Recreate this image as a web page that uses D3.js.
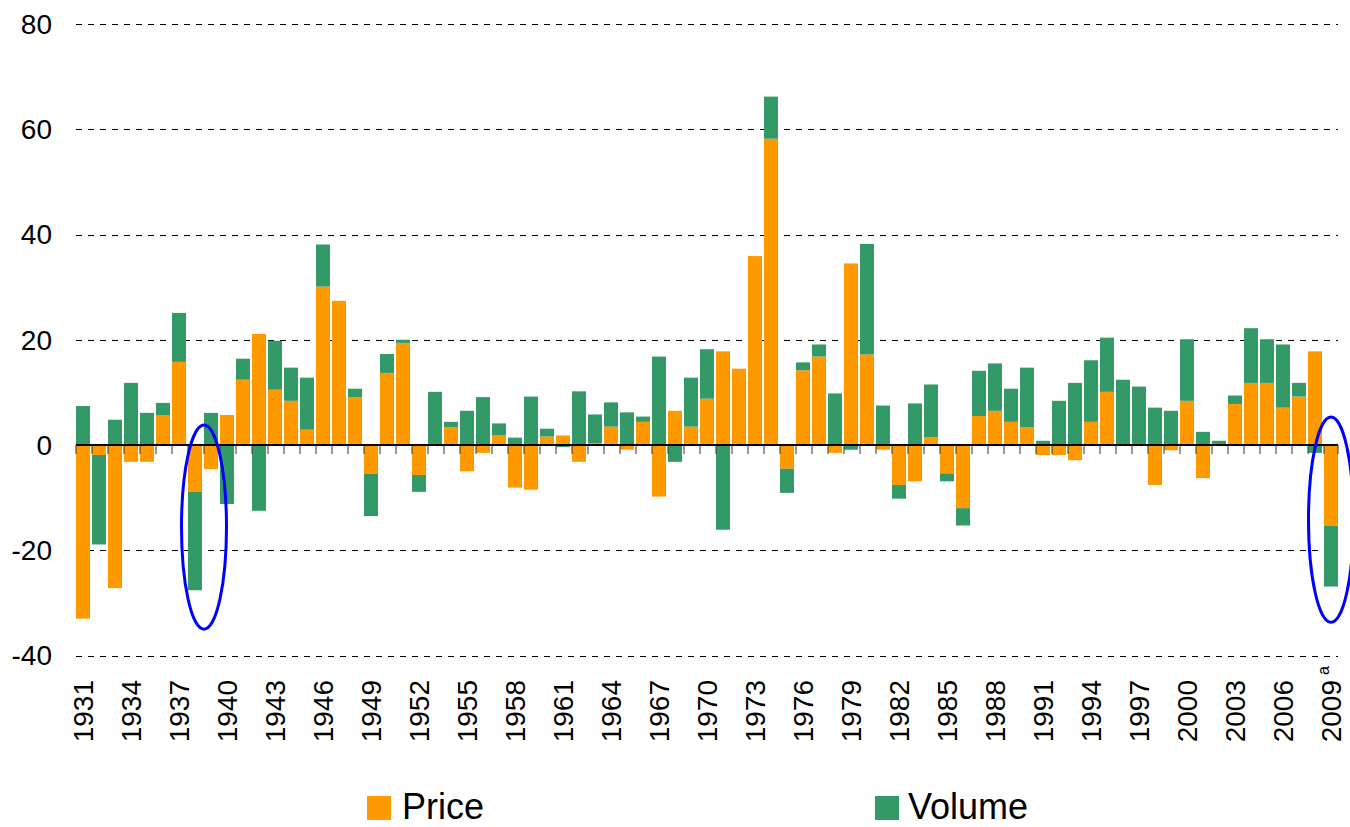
<!DOCTYPE html>
<html>
<head>
<meta charset="utf-8">
<script src="https://cdn.jsdelivr.net/npm/d3@7"></script>
<style>
  body { margin: 0; background: #fff; }
  text { font-family: "Liberation Sans", Arial, sans-serif; }
</style>
</head>
<body>
<svg id="chart"></svg>
<script>
// years on the x axis
var years = [1931, 1932, 1933, 1934, 1935, 1936, 1937, 1938, 1939, 1940,
  1941, 1942, 1943, 1944, 1945, 1946, 1947, 1948, 1949, 1950,
  1951, 1952, 1953, 1954, 1955, 1956, 1957, 1958, 1959, 1960,
  1961, 1962, 1963, 1964, 1965, 1966, 1967, 1968, 1969, 1970,
  1971, 1972, 1973, 1974, 1975, 1976, 1977, 1978, 1979, 1980,
  1981, 1982, 1983, 1984, 1985, 1986, 1987, 1988, 1989, 1990,
  1991, 1992, 1993, 1994, 1995, 1996, 1997, 1998, 1999, 2000,
  2001, 2002, 2003, 2004, 2005, 2006, 2007, 2008, 2009]

// price contribution (orange)
var price = [-33.0, -1.9, -27.2, -3.2, -3.2, 5.7, 15.8, -8.9, -4.6, 5.7,
  12.4, 21.1, 10.5, 8.4, 2.9, 30.1, 27.4, 9.1, -5.5, 13.7,
  19.4, -5.7, 0, 3.4, -5.0, -1.5, 1.8, -8.1, -8.5, 1.6,
  1.8, -3.2, 0.3, 3.5, -0.9, 4.4, -9.8, 6.5, 3.5, 8.8,
  17.8, 14.5, 35.9, 58.2, -4.5, 14.2, 16.8, -1.5, 34.5, 17.2,
  -0.9, -7.6, -6.9, 1.5, -5.4, -12.0, 5.5, 6.5, 4.4, 3.4,
  -1.9, -1.9, -2.9, 4.4, 10.1, 0, 0.2, -7.6, -1.0, 8.4,
  -6.3, 0.2, 7.8, 11.8, 11.8, 7.1, 9.2, 17.8, -15.3]

// volume contribution (green)
var volume = [7.4, -17.0, 4.8, 11.8, 6.1, 2.3, 9.3, -18.7, 6.1, -11.2,
  4.0, -12.5, 9.3, 6.3, 9.9, 8.0, 0, 1.6, -8.0, 3.6,
  0.6, -3.2, 10.1, 1.0, 6.5, 9.1, 2.3, 1.4, 9.2, 1.5,
  -0.4, 10.2, 5.5, 4.6, 6.2, 1.0, 16.8, -3.2, 9.3, 9.4,
  -16.1, 0, 0, 8.0, -4.6, 1.5, 2.3, 9.8, -0.9, 21.0,
  7.5, -2.6, 7.9, 10.0, -1.5, -3.3, 8.6, 9.0, 6.3, 11.3,
  0.8, 8.4, 11.8, 11.7, 10.3, 12.4, 10.9, 7.1, 6.5, 11.7,
  2.5, 0.6, 1.6, 10.4, 8.3, 12.0, 2.6, -1.5, -11.6]

var yTicks = [-40, -20, 0, 20, 40, 60, 80]
var labelYears = [1931, 1934, 1937, 1940, 1943, 1946, 1949, 1952, 1955, 1958,
  1961, 1964, 1967, 1970, 1973, 1976, 1979, 1982, 1985, 1988,
  1991, 1994, 1997, 2000, 2003, 2006, 2009]

var seriesNames = ["Price", "Volume"]

// highlighted years (blue ellipses): centre year and value range
var highlightYears = [1939, 2009]
var highlightTop = [3.8, 5.3]
var highlightBottom = [-35, -33.7]

var width = 1350
var height = 827

var colors = new Map().set("price", "#FF9900").set("volume", "#339966")

var data = years.map((yr, i) => ({year: yr, price: price[i], volume: volume[i]}))

const svg = d3.select("#chart")
  .attr("width", width)
  .attr("height", height)

var x = d3.scaleBand()
  .domain(years)
  .range([76, 1338])
  .paddingInner(0.125)
  .paddingOuter(0)

var y = d3.scaleLinear()
  .domain([-40, 80])
  .range([655.5, 24])

// dashed grid lines (behind bars)
svg.append("g")
  .selectAll("line")
  .data(yTicks.filter(t => t != 0))
  .join("line")
    .attr("x1", 76)
    .attr("x2", 1338)
    .attr("y1", d => Math.round(y(d)) + 0.5)
    .attr("y2", d => Math.round(y(d)) + 0.5)
    .attr("stroke", "#000")
    .attr("stroke-width", 1)
    .attr("stroke-dasharray", "6,6")

// y tick labels
svg.append("g")
  .selectAll("text")
  .data(yTicks)
  .join("text")
    .attr("x", 52)
    .attr("y", d => y(d))
    .attr("dy", "0.35em")
    .attr("text-anchor", "end")
    .style("font-size", "28px")
    .attr("fill", "#000")
    .text(d => d)

var stack = d3.stack()
  .keys(["price", "volume"])
  .offset(d3.stackOffsetDiverging)

var cdata = stack(data)

const groups = svg.append("g")
  .selectAll("g")
  .data(cdata)
  .join("g")
    .style("fill", d => colors.get(d.key))

groups.selectAll("rect")
  .data(d => d)
  .join("rect")
    .attr("x", d => x(d.data.year))
    .attr("y", d => y(Math.max(d[0], d[1])))
    .attr("height", d => Math.abs(y(d[0]) - y(d[1])))
    .attr("width", x.bandwidth())

// zero axis with ticks at every band edge
var y0 = y(0)
svg.append("line")
  .attr("x1", 76)
  .attr("x2", 1338)
  .attr("y1", y0)
  .attr("y2", y0)
  .attr("stroke", "#000")
  .attr("stroke-width", 2)

var tickXs = years.map(yr => x(yr)).concat([x(years[years.length - 1]) + x.bandwidth()])
svg.append("g")
  .selectAll("line")
  .data(tickXs)
  .join("line")
    .attr("x1", d => d)
    .attr("x2", d => d)
    .attr("y1", y0)
    .attr("y2", y0 + 9)
    .attr("stroke", "#333")
    .attr("stroke-width", 1)

// rotated year labels
svg.append("g")
  .selectAll("text")
  .data(labelYears)
  .join("text")
    .attr("transform", d => `translate(${x(d) + x.bandwidth() / 2},680) rotate(-90)`)
    .attr("dy", "0.35em")
    .attr("text-anchor", "end")
    .style("font-size", "28px")
    .attr("fill", "#000")
    .text(d => d)

// footnote mark on last year
svg.append("text")
  .attr("transform", `translate(${x(2009) + x.bandwidth() / 2 - 8},666) rotate(-90)`)
  .attr("dy", "0.35em")
  .attr("text-anchor", "end")
  .style("font-size", "16px")
  .attr("fill", "#000")
  .text("a")

// blue ellipses
svg.append("g")
  .selectAll("ellipse")
  .data(highlightYears)
  .join("ellipse")
    .attr("cx", (d, i) => i == 0 ? x(d) : x(d) + x.bandwidth() / 2)
    .attr("cy", (d, i) => (y(highlightTop[i]) + y(highlightBottom[i])) / 2)
    .attr("rx", 22.5)
    .attr("ry", (d, i) => (y(highlightBottom[i]) - y(highlightTop[i])) / 2)
    .attr("fill", "none")
    .attr("stroke", "#0000FF")
    .attr("stroke-width", 3)

// legend
var legendX = [367, 875]
var legend = svg.append("g")
  .selectAll("g")
  .data(seriesNames)
  .join("g")
    .attr("transform", (d, i) => `translate(${legendX[i]},796)`)

legend.append("rect")
  .attr("width", 24)
  .attr("height", 24)
  .attr("fill", d => colors.get(d.toLowerCase()))

legend.append("text")
  .attr("x", (d, i) => i == 0 ? 35 : 33)
  .attr("y", 23)
  .style("font-size", "36px")
  .attr("fill", "#000")
  .text(d => d)
</script>
</body>
</html>
